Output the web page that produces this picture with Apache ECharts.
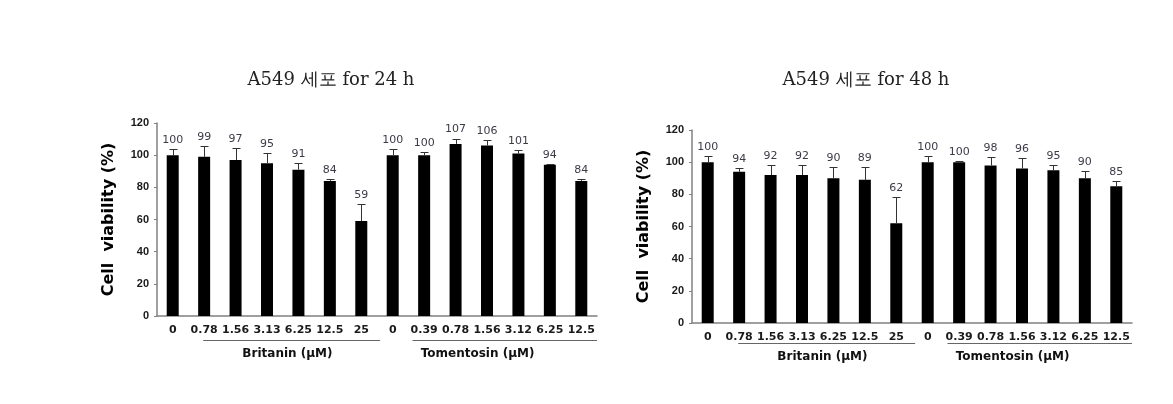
<!DOCTYPE html>
<html><head><meta charset="utf-8">
<script src="https://cdn.jsdelivr.net/npm/echarts@6/dist/echarts.min.js"></script>
<style>html,body{margin:0;padding:0;background:#fff}#c{width:1173px;height:404px}</style>
</head><body><div id="c"></div>
<script>
// ---- data ----
const categories = ['0','0.78','1.56','3.13','6.25','12.5','25','0','0.39','0.78','1.56','3.12','6.25','12.5'];
const titles = ['A549 세포 for 24 h', 'A549 세포 for 48 h'];
const yAxisName = 'Cell  viability (%)';
const values24 = [100, 99, 97, 95, 91, 84, 59, 100, 100, 107, 106, 101, 94, 84];
const errors24 = [4, 6.5, 7.5, 6.5, 4, 1, 10.5, 4, 2, 3.3, 3.3, 2, 0.5, 1];
const values48 = [100, 94, 92, 92, 90, 89, 62, 100, 100, 98, 96, 95, 90, 85];
const errors48 = [3.7, 2.5, 6.2, 6, 7.2, 7.7, 16.5, 3.7, 0.5, 5, 6.6, 3, 4.5, 3];
const groupNames = ['Britanin (μM)', 'Tomentosin (μM)'];
const yMin = 0, yMax = 120, yStep = 20;

// ---- layout / style ----
const grids = [
  {left: 157, top: 123, width: 440, height: 193},
  {left: 692, top: 130, width: 440, height: 193}
];
const axisColor = '#808080';
const sets = [[values24, errors24], [values48, errors48]];

const chart = echarts.init(document.getElementById('c'), null, {renderer: 'canvas'});

function errSeries(g, vals, errs) {
  return {
    type: 'custom', xAxisIndex: g, yAxisIndex: g, z: 5,
    data: vals.map((v, i) => [i, v, errs[i]]),
    renderItem(params, api) {
      const i = api.value(0), v = api.value(1), e = api.value(2);
      const top = api.coord([i, v + e]);
      const base = api.coord([i, v]);
      const cx = Math.round(top[0]) + 0.5;
      const ty = Math.round(top[1]) + 0.5;
      return {type: 'group', children: [
        {type: 'line', shape: {x1: cx, y1: base[1], x2: cx, y2: ty}, style: {stroke: '#333', lineWidth: 1}},
        {type: 'line', shape: {x1: cx - 4, y1: ty, x2: cx + 4, y2: ty}, style: {stroke: '#333', lineWidth: 1}},
        {type: 'text', x: top[0], y: top[1] - 9, style: {
          text: String(v), fill: '#3b3b48', font: '11px "DejaVu Sans"',
          align: 'center', verticalAlign: 'middle'}}
      ]};
    }
  };
}

const option = {
  animation: false,
  backgroundColor: '#fff',
  grid: grids.map(g => Object.assign({containLabel: false}, g)),
  xAxis: grids.map((g, k) => ({
    type: 'category', gridIndex: k, data: categories, boundaryGap: true,
    axisLine: {lineStyle: {color: axisColor, width: 1.5}},
    axisTick: {show: false},
    axisLabel: {interval: 0, margin: k === 0 ? 9 : 8.5, color: '#1a1a1a', fontWeight: 'bold',
      fontSize: 11, fontFamily: 'DejaVu Sans'}
  })),
  yAxis: grids.map((g, k) => ({
    type: 'value', gridIndex: k, min: yMin, max: yMax, interval: yStep,
    name: yAxisName, nameLocation: 'middle', nameGap: 40,
    nameTextStyle: {fontFamily: 'DejaVu Sans', fontWeight: 'bold', fontSize: 16, color: '#000'},
    axisLine: {show: true, lineStyle: {color: axisColor, width: 1.5}},
    axisTick: {show: true, length: 3, lineStyle: {color: axisColor}},
    splitLine: {show: false},
    axisLabel: {margin: 8, color: '#1a1a1a', fontWeight: 'bold', fontSize: 11,
      fontFamily: 'Liberation Sans, Arial'}
  })),
  series: [].concat(...sets.map((s, k) => [
    {type: 'bar', xAxisIndex: k, yAxisIndex: k, data: s[0], barWidth: 12,
     itemStyle: {color: '#000'}},
    errSeries(k, s[0], s[1])
  ]))
};
chart.setOption(option);

// annotations: titles, group lines, group names (positions from the axes)
const titleX = [331, 866];
const lineDy = [24, 19.6], nameDy = [38, 34];
const graphics = [];
grids.forEach((g, k) => {
  const x0 = chart.convertToPixel({xAxisIndex: k}, 0);
  const x1 = chart.convertToPixel({xAxisIndex: k}, 1);
  const step = x1 - x0;
  const cx = i => x0 + i * step;
  const yAxisPx = g.top + g.height;
  const axisEnd = g.left + g.width;
  graphics.push({type: 'text', x: titleX[k], y: 80, style: {
    text: titles[k], fill: '#222', font: '18px "DejaVu Serif", serif',
    align: 'center', verticalAlign: 'middle'}});
  const ly = Math.round(yAxisPx + lineDy[k]) + 0.5;
  graphics.push({type: 'line', shape: {x1: cx(0.97), y1: ly, x2: cx(6.6), y2: ly},
    style: {stroke: '#666', lineWidth: 1}});
  graphics.push({type: 'line', shape: {x1: cx(7.63), y1: ly, x2: axisEnd, y2: ly},
    style: {stroke: '#666', lineWidth: 1}});
  const ny = yAxisPx + nameDy[k];
  [3.65, 9.7].forEach((p, j) => graphics.push({type: 'text', x: cx(p), y: ny, style: {
    text: groupNames[j], fill: '#111', font: 'bold 12px "DejaVu Sans"',
    align: 'center', verticalAlign: 'middle'}}));
});
chart.setOption({graphic: graphics});
</script></body></html>
